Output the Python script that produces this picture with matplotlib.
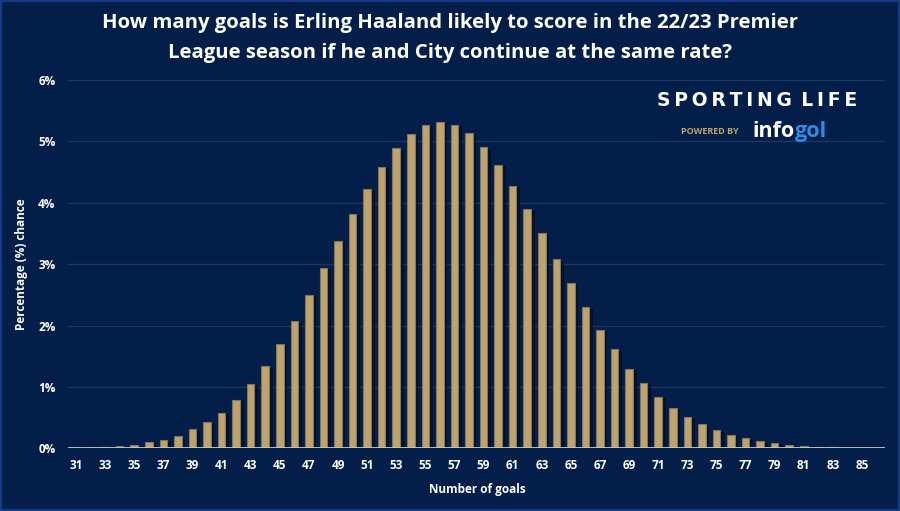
import matplotlib
matplotlib.use("Agg")
import matplotlib.pyplot as plt
import matplotlib.patheffects as pe
from matplotlib.patches import Rectangle
import numpy as np

# ---- data ----
goals = list(range(31, 86))
chance = [0.00, 0.00, 0.02, 0.03, 0.05, 0.10, 0.14, 0.20, 0.31, 0.43,
          0.58, 0.79, 1.04, 1.34, 1.70, 2.07, 2.50, 2.94, 3.38, 3.82,
          4.22, 4.59, 4.89, 5.12, 5.27, 5.32, 5.27, 5.14, 4.91, 4.62,
          4.28, 3.90, 3.50, 3.08, 2.69, 2.30, 1.93, 1.61, 1.30, 1.07,
          0.84, 0.66, 0.51, 0.39, 0.30, 0.22, 0.16, 0.12, 0.09, 0.05,
          0.04, 0.02, 0.02, 0.00, 0.00]
x_ticks = list(range(31, 86, 2))
y_ticks = [0, 1, 2, 3, 4, 5, 6]
y_ticklabels = ["0%", "1%", "2%", "3%", "4%", "5%", "6%"]
title = ("How many goals is Erling Haaland likely to score in the 22/23 Premier\n"
         "League season if he and City continue at the same rate?")
x_label = "Number of goals"
y_label = "Percentage (%) chance"

BG = "#031f49"
BAR = "#bea36e"
BAR_EDGE = "#857558"
GRID = "#1a3661"
BASE = "#c3c6cc"
FONT = ["Open Sans", "DejaVu Sans"]

fig = plt.figure(figsize=(9, 5.11), dpi=100, facecolor=BG)
ax = fig.add_axes([68 / 900, 1 - 448.3 / 511, (885 - 68) / 900, (448.3 - 80) / 511])
ax.set_facecolor(BG)

bars = ax.bar(goals, chance, width=0.52, color=BAR, edgecolor=BAR_EDGE,
              linewidth=0.8, zorder=3)
for b in bars:
    b.set_path_effects([pe.SimplePatchShadow(offset=(2.6, -1.2),
                                             shadow_rgbFace="#000d24", alpha=0.75),
                        pe.Normal()])

ax.set_xlim(30.45, 86.58)
ax.set_ylim(0, 6)
ax.set_yticks(y_ticks)
ax.set_yticklabels(y_ticklabels)
ax.set_xticks(x_ticks)
ax.set_xticklabels([str(t) for t in x_ticks])
ax.grid(axis="y", color=GRID, linewidth=1.0, zorder=0)
ax.set_axisbelow(True)
for s in ax.spines.values():
    s.set_visible(False)
ax.axhline(0, color=BASE, linewidth=1.3, zorder=4)
ax.tick_params(axis="both", length=0, colors="white", labelsize=8.5)
ax.tick_params(axis="y", pad=9)
ax.tick_params(axis="x", pad=8)
for lab in ax.get_xticklabels() + ax.get_yticklabels():
    lab.set_fontweight("bold")
    lab.set_family(FONT)

fig.text(477 / 900, 1 - 489 / 511, x_label, ha="center", va="center",
         color="white", fontsize=8.5, fontweight="bold", family=FONT)
fig.text(22 / 900, 1 - 264 / 511, y_label, ha="center", va="center",
         rotation=90, color="white", fontsize=8.5, fontweight="bold", family=FONT)

fig.text(0.5, 1 - 38 / 511, title, ha="center", va="center", color="white",
         fontsize=14.6, fontweight="bold", family=FONT, linespacing=1.62)

# logo
fig.text(757 / 900, 1 - 101 / 511, "\u2009".join("SPORTING") + "\u2002" + "\u2009".join("LIFE"),
         ha="center", va="center", color="white", fontsize=13.5,
         fontweight="bold", family=["DejaVu Sans"])
fig.text(710 / 900, 1 - 132 / 511, "POWERED BY", ha="center", va="center",
         color="#bea36e", fontsize=6.5, fontweight="bold", family=FONT)
t1 = fig.text(753 / 900, 1 - 131 / 511, "info", ha="left", va="center",
              color="white", fontsize=15.5, fontweight="bold", family=FONT)
fig.canvas.draw()
ext = t1.get_window_extent()
fig.text(ext.x1 / 900, 1 - 131 / 511, "gol", ha="left", va="center",
         color="#2b8fe8", fontsize=15.5, fontweight="bold", family=FONT)

# border
fig.patches.append(Rectangle((0.001, 0.002), 0.998, 0.996, transform=fig.transFigure,
                             fill=False, edgecolor="#163a8c", linewidth=1.5))

fig.savefig("out.png", dpi=100, facecolor=BG)
